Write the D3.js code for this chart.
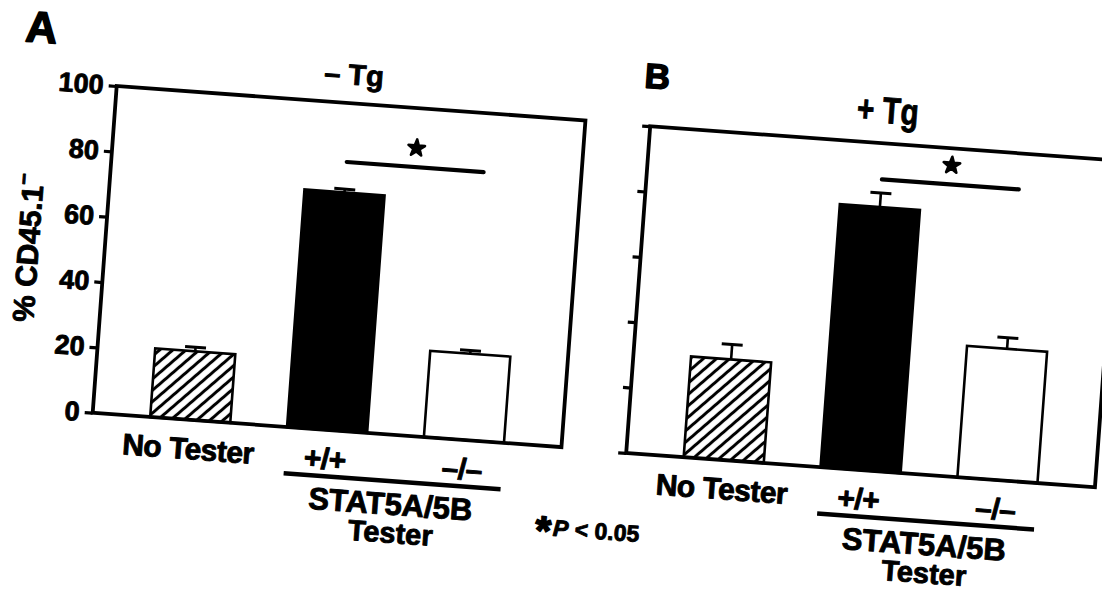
<!DOCTYPE html>
<html>
<head>
<meta charset="utf-8">
<script src="https://cdn.jsdelivr.net/npm/d3@7"></script>
<style>
  body { margin: 0; background: #fff; }
  text { font-family: "Liberation Sans", Arial, sans-serif; font-weight: bold; fill: #000;
         stroke: #000; stroke-width: 0.9px; stroke-linejoin: round; }
</style>
</head>
<body>
<svg id="chart" width="1102" height="592"></svg>
<script>
// data (% CD45.1- cells)
var categories = ["No Tester", "+/+", "–/–"];
var panelLetters = ["A", "B"];
var panelTitles = ["– Tg", "+ Tg"];
var minusTg = [21, 72.7, 26.4];
var minusTgErr = [1.2, 1.0, 1.0];
var plusTg = [30.8, 80.5, 40.2];
var plusTgErr = [4.6, 4.3, 3.4];
var sigLevel = [82, 89];
var yTicks = [0, 20, 40, 60, 80, 100];

// layout
var frameW = 470;
var frameH = 327.6;
var tilt = 4.2;              // the scan is slightly rotated
var barFills = ["url(#hatch)", "#000", "#fff"];

var svg = d3.select("#chart");

// diagonal hatching for the "No Tester" bars
var hatch = svg.append("defs").append("pattern")
    .attr("id", "hatch")
    .attr("patternUnits", "userSpaceOnUse")
    .attr("width", 8.6)
    .attr("height", 8.6)
    .attr("patternTransform", "rotate(45)");
hatch.append("rect").attr("width", 8.6).attr("height", 8.6).attr("fill", "#fff");
hatch.append("line")
    .attr("x1", 4.3).attr("y1", 0).attr("x2", 4.3).attr("y2", 8.6)
    .attr("stroke", "#000").attr("stroke-width", 3);

var x = d3.scaleBand().domain(categories).range([0, frameW]).paddingInner(0.415).paddingOuter(0.42);
var y = d3.scaleLinear().domain([0, 100]).range([frameH, 0]);

var fig = svg.append("g").attr("transform", "translate(116.7,86) rotate(" + tilt + ")");

var panels = [
    {letter: panelLetters[0], title: panelTitles[0], values: minusTg, errors: minusTgErr, sig: sigLevel[0],
     dx: 0, dy: 0, tickLabels: true, titleSize: 29, titleScale: 1, titleY: -18.6, letterSize: 44, letterX: -79, letterY: -38},
    {letter: panelLetters[1], title: panelTitles[1], values: plusTg, errors: plusTgErr, sig: sigLevel[1],
     dx: 535, dy: 1, tickLabels: false, titleSize: 37, titleScale: 0.8, titleY: -20.4, letterSize: 35, letterX: 3.6, letterY: -38}
];

var drawPanel = function (p) {
    var g = fig.append("g").attr("transform", "translate(" + p.dx + "," + p.dy + ")");
    var bw = x.bandwidth();

    // bars
    g.selectAll(".bar").data(p.values).join("rect")
        .attr("class", "bar")
        .attr("x", function (d, i) { return x(categories[i]); })
        .attr("y", function (d) { return y(d); })
        .attr("width", bw)
        .attr("height", function (d) { return frameH - y(d); })
        .attr("fill", function (d, i) { return barFills[i]; })
        .attr("stroke", "#000")
        .attr("stroke-width", 2.6);

    // error bars (upper only)
    var err = g.selectAll(".err").data(p.values).join("g").attr("class", "err")
        .attr("stroke", "#000");
    err.append("line")
        .attr("x1", function (d, i) { return x(categories[i]) + bw / 2; })
        .attr("x2", function (d, i) { return x(categories[i]) + bw / 2; })
        .attr("y1", function (d) { return y(d); })
        .attr("y2", function (d, i) { return y(d + p.errors[i]); })
        .attr("stroke-width", 2.6);
    err.append("line")
        .attr("x1", function (d, i) { return x(categories[i]) + bw / 2 - 10.5; })
        .attr("x2", function (d, i) { return x(categories[i]) + bw / 2 + 10.5; })
        .attr("y1", function (d, i) { return y(d + p.errors[i]); })
        .attr("y2", function (d, i) { return y(d + p.errors[i]); })
        .attr("stroke-width", 3);

    // frame
    g.append("rect")
        .attr("width", frameW).attr("height", frameH)
        .attr("fill", "none").attr("stroke", "#000").attr("stroke-width", 3.8);

    // y axis
    var yAxis = d3.axisLeft(y).tickValues(yTicks).tickSize(8).tickPadding(5);
    if (!p.tickLabels) yAxis.tickFormat("");
    var ya = g.append("g").call(yAxis);
    ya.select(".domain").remove();
    ya.selectAll(".tick line").attr("stroke", "#000").attr("stroke-width", 3.2);
    ya.selectAll(".tick text").style("font-size", "27px").attr("fill", "#000");

    // category labels
    var xa = g.append("g").attr("transform", "translate(0," + frameH + ")")
        .call(d3.axisBottom(x).tickSize(0).tickPadding(18));
    xa.select(".domain").remove();
    xa.selectAll(".tick text").style("font-size", "30px").attr("fill", "#000")
        .style("letter-spacing", "-0.5px");

    // STAT5A/5B tester bracket
    g.append("line")
        .attr("x1", x(categories[1])).attr("x2", x(categories[2]) + bw)
        .attr("y1", frameH + 46.5).attr("y2", frameH + 46.5)
        .attr("stroke", "#000").attr("stroke-width", 4.5);
    var mid = (x(categories[1]) + x(categories[2]) + bw) / 2;
    g.append("text").attr("x", mid).attr("y", frameH + 80).attr("text-anchor", "middle")
        .style("font-size", "31px").text("STAT5A/5B");
    g.append("text").attr("x", mid + 2).attr("y", frameH + 108).attr("text-anchor", "middle")
        .style("font-size", "29px").text("Tester");

    // significance bar
    var s1 = x(categories[1]) + bw / 2, s2 = x(categories[2]) + bw / 2;
    g.append("line")
        .attr("x1", s1).attr("x2", s2)
        .attr("y1", y(p.sig)).attr("y2", y(p.sig))
        .attr("stroke", "#000").attr("stroke-width", 4.2).attr("stroke-linecap", "round");
    g.append("path")
        .attr("d", d3.symbol().type(d3.symbolStar).size(85)())
        .attr("transform", "translate(" + (s1 + s2) / 2 + "," + (y(p.sig) - 19) + ")")
        .attr("fill", "#000")
        .attr("stroke", "#000").attr("stroke-width", 2.6).attr("stroke-linejoin", "round");

    // title and panel letter
    g.append("text")
        .attr("transform", "translate(" + (frameW / 2 + 1) + "," + p.titleY + ") scale(" + p.titleScale + ",1)")
        .attr("text-anchor", "middle")
        .style("font-size", p.titleSize + "px")
        .text(p.title);
    g.append("text")
        .attr("x", p.letterX).attr("y", p.letterY)
        .attr("text-anchor", "middle")
        .style("font-size", p.letterSize + "px")
        .style("stroke-width", "1.6px")
        .text(p.letter);

    return g;
};

var gA = drawPanel(panels[0]);
drawPanel(panels[1]);

// y axis title (panel A only)
var yTitle = gA.append("text")
    .attr("transform", "translate(-66," + (frameH / 2 + 4) + ") rotate(-90)")
    .attr("text-anchor", "middle")
    .style("font-size", "30px");
yTitle.append("tspan").text("% CD45.1");
yTitle.append("tspan").attr("dy", -13).style("font-size", "20px").text("−");

// footnote
var note = gA.append("text")
    .attr("x", 502).attr("y", frameH + 89)
    .attr("text-anchor", "middle")
    .style("font-size", "23px");
note.append("tspan").style("font-size", "40px").style("stroke-width", "1.8px").attr("dy", 9).text("*");
note.append("tspan").attr("dy", -9).attr("dx", 2).style("font-style", "italic").text("P");
note.append("tspan").text(" < 0.05");
</script>
</body>
</html>
